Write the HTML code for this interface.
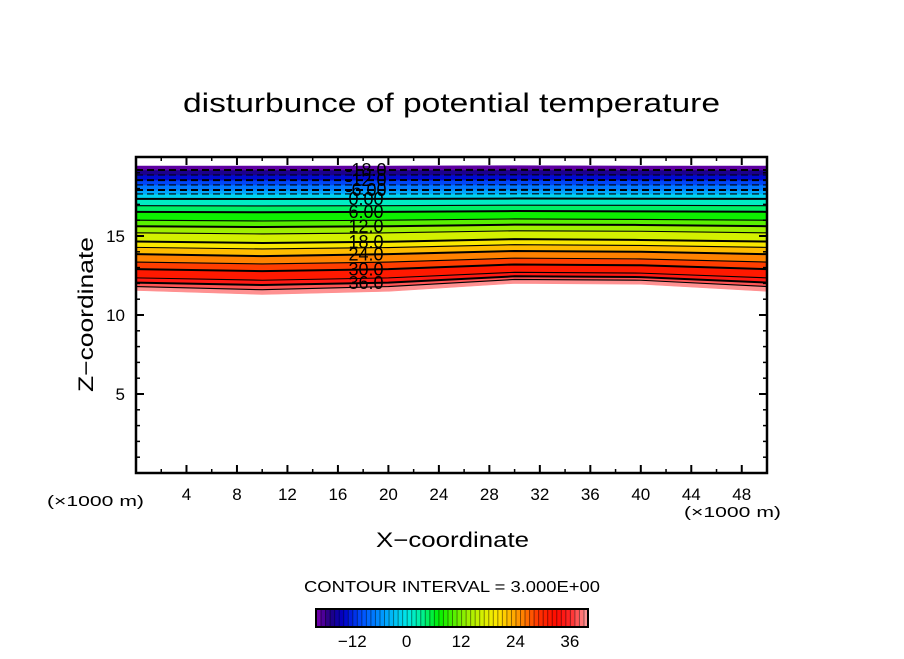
<!DOCTYPE html>
<html><head><meta charset="utf-8"><style>
body{margin:0;background:#fff;}
svg text{font-family:"Liberation Sans",sans-serif;}
</style></head><body>
<svg id="chart" width="904" height="654" viewBox="0 0 904 654" xmlns="http://www.w3.org/2000/svg">
<text x="183" y="112" font-size="27" textLength="537" lengthAdjust="spacingAndGlyphs">disturbunce of potential temperature</text>
<g id="bands"></g>
<g id="lines"></g>
<g id="labels"></g>
<g id="axes"></g>
<text x="376" y="547" font-size="21" textLength="153" lengthAdjust="spacingAndGlyphs">X−coordinate</text>
<text transform="translate(93,392) rotate(-90)" font-size="21" textLength="155" lengthAdjust="spacingAndGlyphs">Z−coordinate</text>
<text x="47" y="506" font-size="15" textLength="97" lengthAdjust="spacingAndGlyphs">(×1000 m)</text>
<text x="684" y="517" font-size="15" textLength="97" lengthAdjust="spacingAndGlyphs">(×1000 m)</text>
<text x="304" y="592" font-size="16" textLength="296" lengthAdjust="spacingAndGlyphs">CONTOUR INTERVAL = 3.000E+00</text>
<g id="cbar"></g>
</svg>
<script>
const xCols=[0,10,20,30,40,50];
const levels=[39,36,33,30,27,24,21,18,15,12,9,6,3,0,-3,-6,-9,-12,-15,-18];
const bottomEdge=[11.55,11.3,11.5,12.0,11.95,11.5];
const topEdge=[19.43,19.43,19.43,19.45,19.43,19.43];
const heights=[
[11.8,11.6,11.8,12.25,12.2,11.8],
[12.05,11.9,12.05,12.45,12.4,12.05],
[12.35,12.2,12.35,12.7,12.65,12.35],
[12.9,12.78,12.9,13.2,13.15,12.9],
[13.35,13.23,13.35,13.6,13.55,13.35],
[13.85,13.73,13.85,14.05,14.0,13.85],
[14.28,14.18,14.27,14.45,14.4,14.28],
[14.65,14.56,14.64,14.8,14.75,14.65],
[15.2,15.13,15.2,15.33,15.3,15.2],
[15.62,15.57,15.62,15.72,15.7,15.62],
[16.0,15.95,16.0,16.08,16.05,16.0],
[16.53,16.5,16.53,16.58,16.56,16.53],
[16.92,16.9,16.92,16.95,16.94,16.92],
[17.35,17.34,17.35,17.37,17.36,17.35],
[17.66,17.66,17.66,17.67,17.66,17.66],
[17.91,17.91,17.91,17.92,17.91,17.91],
[18.23,18.23,18.23,18.24,18.23,18.23],
[18.54,18.54,18.54,18.55,18.54,18.54],
[18.86,18.86,18.86,18.87,18.86,18.86],
[19.18,19.18,19.18,19.19,19.18,19.18]];
const labelLevels=[36,30,24,18,12,6,0,-6,-12,-18];
const labelTexts=["36.0","30.0","24.0","18.0","12.0","6.00","0.00","-6.00","-12.0","-18.0"];
const xTicks=[4,8,12,16,20,24,28,32,36,40,44,48];
const yTicks=[5,10,15];
const cbarTicks=[-12,0,12,24,36];
const cbarMin=-20, cbarMax=40;

const X0=136,X1=767,Y0=473,Y1=157;
const sx=v=>X0+(v/50)*(X1-X0);
const sy=v=>Y0-(v/20)*(Y0-Y1);
const stops=[[-20,[122,0,176]],[-17,[32,0,128]],[-14,[0,0,200]],[-10,[0,80,255]],[-5,[0,160,255]],[0,[0,232,232]],[3,[0,240,160]],[7,[0,240,0]],[13,[150,240,0]],[17,[220,240,0]],[20,[255,230,0]],[23,[255,180,0]],[26,[255,120,0]],[29,[255,50,0]],[33,[255,10,0]],[36,[255,40,40]],[38,[255,100,100]],[40,[255,160,160]]];
function col(v){for(let i=0;i<stops.length-1;i++){const a=stops[i],b=stops[i+1];if(v<=b[0]){const t=Math.max(0,(v-a[0])/(b[0]-a[0]));return 'rgb('+a[1].map((c,k)=>Math.round(c+(b[1][k]-c)*t)).join(',')+')';}}return 'rgb(255,160,160)';}
const NS='http://www.w3.org/2000/svg';
function mk(t,a,p){const e=document.createElementNS(NS,t);for(const k in a)e.setAttribute(k,a[k]);p.appendChild(e);return e;}
function pts(arr){return xCols.map((x,i)=>sx(x)+','+sy(arr[i]));}
const bands=document.getElementById('bands');
const rows=[bottomEdge].concat(heights).concat([topEdge]);
const vals=[40].concat(levels).concat([-20]);
for(let i=0;i<rows.length-1;i++){
 const lo=rows[i],hi=rows[i+1];
 const d='M'+pts(lo).join(' L')+' L'+pts(hi).reverse().join(' L')+'Z';
 const c=col((vals[i]+vals[i+1])/2);
 const p=mk('path',{d:d,fill:c,stroke:c,'stroke-width':0.6},bands);
 
 
}
const lines=document.getElementById('lines');
levels.forEach((L,i)=>{
 const p=mk('polyline',{points:pts(heights[i]).join(' '),fill:'none',stroke:'#000','stroke-width':(L%6===0)?2:1.1},lines);
 if(L<0)p.setAttribute('stroke-dasharray','7,4');
 
 
});
const labs=document.getElementById('labels');
labelLevels.forEach((L,j)=>{
 const i=levels.indexOf(L);
 const h=heights[i][1]+(heights[i][2]-heights[i][1])*0.85;
 const t=mk('text',{x:366,y:sy(h)+6,'font-size':18,'text-anchor':'middle'},labs);
 t.textContent=labelTexts[j];
 
 
});
const ax=document.getElementById('axes');
mk('rect',{x:X0,y:Y1,width:X1-X0,height:Y0-Y1,fill:'none',stroke:'#000','stroke-width':2.5},ax);
for(let v=2;v<50;v+=2){const big=v%4===0;const L=big?8:4;
 mk('line',{x1:sx(v),x2:sx(v),y1:Y0,y2:Y0-L,stroke:'#000','stroke-width':big?2:1.5},ax);
 mk('line',{x1:sx(v),x2:sx(v),y1:Y1,y2:Y1+L,stroke:'#000','stroke-width':big?2:1.5},ax);}
for(let v=1;v<20;v++){const big=v%5===0;const L=big?8:4;
 mk('line',{y1:sy(v),y2:sy(v),x1:X0,x2:X0+L,stroke:'#000','stroke-width':big?2:1.5},ax);
 mk('line',{y1:sy(v),y2:sy(v),x1:X1,x2:X1-L,stroke:'#000','stroke-width':big?2:1.5},ax);}
xTicks.forEach(v=>{const t=mk('text',{x:sx(v),y:500,'font-size':17,'text-anchor':'middle'},ax);t.textContent=v;
 });
yTicks.forEach(v=>{const t=mk('text',{x:125,y:sy(v)+6,'font-size':17,'text-anchor':'end'},ax);t.textContent=v;
 });
const cb=document.getElementById('cbar');
const CX0=316,CX1=588,CY=609,CH=18;
const cx=v=>CX0+(v-cbarMin)/(cbarMax-cbarMin)*(CX1-CX0);
for(let v=cbarMin;v<cbarMax;v++){
 const r=mk('rect',{x:cx(v),y:CY,width:cx(v+1)-cx(v)+0.3,height:CH,fill:col(v+0.5)},cb);
 
 mk('line',{x1:cx(v)+0.5,x2:cx(v)+0.5,y1:CY,y2:CY+CH,stroke:'rgba(0,0,0,0.45)','stroke-width':1},cb);
}
mk('rect',{x:CX0,y:CY,width:CX1-CX0,height:CH,fill:'none',stroke:'#000','stroke-width':2},cb);
cbarTicks.forEach(v=>{const t=mk('text',{x:cx(v),y:647,'font-size':17,'text-anchor':'middle'},cb);t.textContent=v<0?'−'+(-v):v;
 });
</script>
</body></html>
